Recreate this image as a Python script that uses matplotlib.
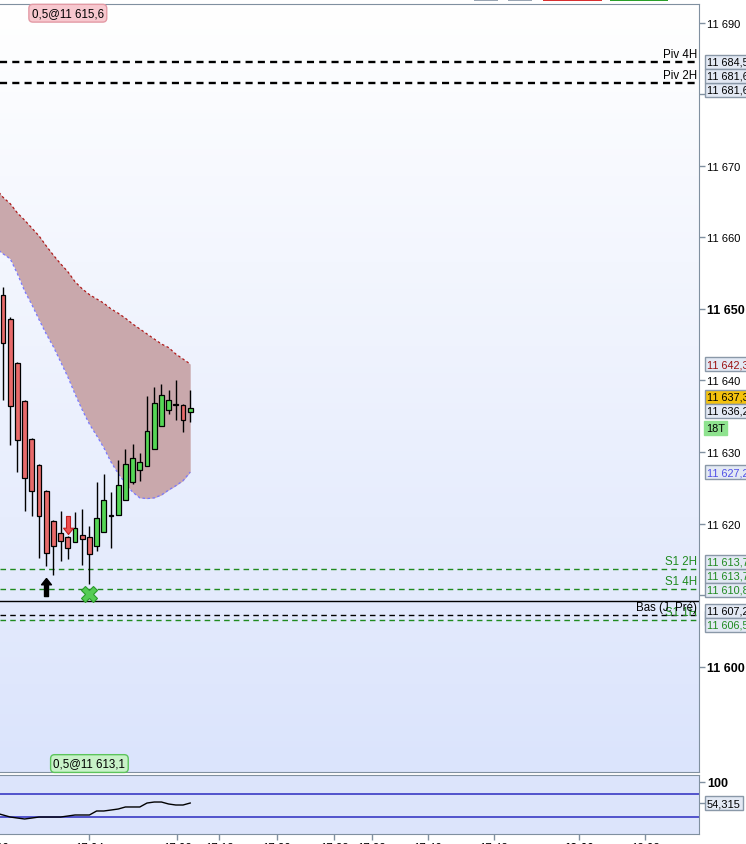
import numpy as np
import matplotlib
matplotlib.use("Agg")
import matplotlib.pyplot as plt
from matplotlib.path import Path
from matplotlib.patches import Rectangle
from matplotlib.colors import LinearSegmentedColormap
from matplotlib.transforms import blended_transform_factory

plt.rcParams['font.family'] = ['Liberation Sans', 'DejaVu Sans']

# ---- data ----
opens = [11652.0, 11648.6, 11642.5, 11637.2, 11631.8, 11628.2, 11624.6, 11620.4, 11618.7,
         11618.2, 11617.5, 11618.4, 11618.2, 11616.9, 11618.9, 11621.1, 11621.2, 11623.3,
         11625.8, 11627.5, 11628.1, 11630.4, 11633.7, 11635.9, 11636.6, 11636.6, 11635.6]
highs = [11653.1, 11648.9, 11642.6, 11637.3, 11631.9, 11628.3, 11624.7, 11620.5, 11621.8,
         11618.3, 11621.6, 11622.1, 11619.7, 11625.8, 11627.0, 11624.4, 11628.9, 11630.4,
         11631.1, 11629.9, 11637.8, 11639.1, 11639.5, 11638.7, 11640.1, 11636.7, 11638.7]
lows = [11637.3, 11631.0, 11627.2, 11621.8, 11621.0, 11615.2, 11614.1, 11612.8, 11614.8,
        11615.0, 11617.5, 11614.2, 11611.5, 11616.2, 11618.9, 11616.6, 11621.2, 11623.3,
        11625.5, 11626.0, 11628.1, 11630.4, 11633.7, 11635.3, 11634.5, 11632.8, 11634.2]
closes = [11645.3, 11636.5, 11631.7, 11626.4, 11624.6, 11621.0, 11615.9, 11616.9, 11617.6,
          11616.6, 11619.4, 11617.9, 11615.8, 11620.8, 11623.3, 11621.1, 11625.4, 11628.4,
          11629.2, 11628.6, 11633.0, 11636.9, 11638.0, 11637.3, 11636.6, 11634.5, 11636.2]

band_x = list(range(-1, 27))
band_hi = [11666.8, 11665.6, 11664.7, 11663.4, 11662.4, 11661.3, 11660.2, 11658.8, 11657.5,
           11656.3, 11655.2, 11653.8, 11652.8, 11652.0, 11651.4, 11650.8, 11650.0, 11649.4,
           11648.7, 11647.9, 11647.2, 11646.5, 11645.8, 11645.1, 11644.6, 11643.7, 11643.0, 11642.3]
band_lo = [11658.5, 11657.7, 11657.0, 11654.9, 11652.5, 11650.6, 11648.5, 11646.5, 11644.7,
           11642.6, 11640.5, 11638.1, 11635.9, 11633.9, 11632.3, 11630.6, 11628.6, 11627.0,
           11625.6, 11624.4, 11623.6, 11623.5, 11623.6, 11624.0, 11624.7, 11625.3, 11626.0, 11627.2]

osc_x = list(range(-1, 27))
osc = [32.6, 28.3, 23.9, 21.7, 19.6, 21.7, 23.9, 23.9, 23.9, 23.9, 26.1, 28.3, 28.3, 28.3,
       37.0, 37.0, 39.1, 41.3, 45.7, 45.7, 45.7, 54.3, 56.5, 56.5, 52.2, 50.0, 50.0, 54.315]
osc_levels = [75, 25]

# horizontal levels: value, label, colour, style
levels = [
    (11684.5, 'Piv 4H', 'black', 'piv'),
    (11681.6, 'Piv 2H', 'black', 'piv'),
    (11613.7, 'S1 2H', '#1f8a1f', 's1'),
    (11610.8, 'S1 4H', '#1f8a1f', 's1'),
    (11609.2, '', 'black', 'solid'),
    (11607.2, 'Bas (J. Pré)', 'black', 'bas'),
    (11606.5, 'S1 1H', '#1f8a1f', 's1'),
]

# price boxes on the right: value, text colour, face colour
boxes = [
    (11684.5, 'black', '#e3e9f4'),
    (11681.6, 'black', '#e3e9f4'),
    (11681.6, 'black', '#e3e9f4'),
    (11642.3, '#9b1111', '#e3e9f4'),
    (11637.3, 'black', '#f4c20d'),
    (11636.2, 'black', '#e3e9f4'),
    (11627.2, '#5050e6', '#e3e9f4'),
    (11613.7, '#1f8a1f', '#e3e9f4'),
    (11613.7, '#1f8a1f', '#e3e9f4'),
    (11610.8, '#1f8a1f', '#e3e9f4'),
    (11607.2, 'black', '#e3e9f4'),
    (11606.5, '#1f8a1f', '#e3e9f4'),
]
hidden_box = 11606.8

up_arrow = (6, 11611.2)
down_arrow = (9, 11619.8)
cross = (12, 11610.2)
top_tag = (9, '0,5@11 615,6')
bottom_tag = (12, '0,5@11 613,1')

x_tick_pos = [-1.1, 12.0, 24.2, 30.0, 38.0, 46.0, 51.2, 59.0, 68.2, 80.0, 89.2]
x_tick_lab = ['17:00', '17:04', '17:08', '17:12', '17:20', '17:28', '17:32', '17:40',
              '17:48', '18:00', '18:08']

y_ticks = list(range(11600, 11700, 10))

# ---- figure ----
W, H = 746, 845
fig = plt.figure(figsize=(W / 100, H / 100), dpi=100)
ax = fig.add_axes([0, 1 - 773 / H, 699 / W, 768 / H])
ax2 = fig.add_axes([0, 1 - 835 / H, 699 / W, 59 / H])

spine_c = '#8090a0'
grad = LinearSegmentedColormap.from_list('bg', ['#ffffff', '#dbe4fc'])
ax.imshow(np.linspace(0, 1, 256).reshape(-1, 1), cmap=grad, extent=(0, 1, 0, 1),
          transform=ax.transAxes, aspect='auto', zorder=0)
ax2.set_facecolor('#dce4fb')

XL = (-0.42, 96.67)
ax.set_xlim(*XL)
ax.set_ylim(11585.3, 11692.6)
ax2.set_xlim(*XL)
ax2.set_ylim(-13.0, 115.2)

# band
ax.fill_between(band_x, band_lo, band_hi, color='#c9a8ac', lw=0, zorder=1)
ax.plot(band_x, band_hi, color='#b01818', lw=0.9, ls=(0, (2, 2)), zorder=1.5)
ax.plot(band_x, band_lo, color='#7878ff', lw=0.9, ls=(0, (2, 2)), zorder=1.5)

# levels
for v, lab, c, st in levels:
    if st == 'piv':
        ax.axhline(v, color=c, lw=1.7, ls=(0, (3, 2.2)), zorder=2)
    elif st in ('s1', 'bas'):
        ax.axhline(v, color=c, lw=1.0, ls=(0, (4, 3)), zorder=2)
    else:
        ax.axhline(v, color=c, lw=1.0, zorder=2)
bt = blended_transform_factory(ax.transAxes, ax.transData)
for v, lab, c, st in sorted(levels, key=lambda r: r[2] == 'black'):
    if lab:
        ax.annotate(lab, xy=(0.997, v), xycoords=bt, xytext=(0, 2), textcoords='offset pixels',
                    ha='right', va='bottom', fontsize=8.3, color=c, zorder=4)

# candles
idx = np.arange(len(opens))
o = np.array(opens)
c_ = np.array(closes)
colors = ['#55d655' if cc > oo else '#e86a6a' for oo, cc in zip(o, c_)]
ax.vlines(idx, lows, highs, color='black', lw=1, zorder=3)
body_h = np.maximum(np.abs(c_ - o), 0.12)
ax.bar(idx, body_h, bottom=np.minimum(o, c_), width=0.68, color=colors,
       edgecolor='black', lw=0.9, zorder=3.2)

# markers
arrow = Path([(0, 1), (0.55, 0.3), (0.22, 0.3), (0.22, -1), (-0.22, -1), (-0.22, 0.3),
              (-0.55, 0.3), (0, 1)])
arrow_dn = Path([(x, -y) for x, y in arrow.vertices])
ax.plot(*up_arrow, marker=arrow, ms=13, color='black', mec='black', zorder=5)
ax.plot(*down_arrow, marker=arrow_dn, ms=13, color='#f05050', mec='#c02020', mew=0.8, zorder=5)
ax.plot(*cross, marker='X', ms=11, color='#55cc55', mec='#2a9a2a', mew=0.8, zorder=5)

tb = blended_transform_factory(ax.transData, ax.transAxes)
ax.text(top_tag[0], 0.988, top_tag[1], transform=tb, ha='center', va='center', fontsize=8.3,
        bbox=dict(boxstyle='round,pad=0.25,rounding_size=0.35', fc='#f7c8cf', ec='#e39aa5', lw=1),
        zorder=6)
ax.text(bottom_tag[0], 0.011, bottom_tag[1], transform=tb, ha='center', va='center', fontsize=8.3,
        bbox=dict(boxstyle='round,pad=0.25,rounding_size=0.35', fc='#c8f2c8', ec='#5cc45c', lw=1),
        zorder=6)


# ---- right-side price boxes, spread so they do not overlap ----
def spread(vals, gap):
    order = sorted(range(len(vals)), key=lambda i: vals[i])
    groups = [[i] for i in order]

    def place(g):
        m = np.mean([vals[i] for i in g])
        s = m - gap * (len(g) - 1) / 2
        return [s + gap * k for k in range(len(g))]

    changed = True
    while changed:
        changed = False
        for k in range(len(groups) - 1):
            a, b = place(groups[k]), place(groups[k + 1])
            if b[0] - a[-1] < gap:
                groups[k] = groups[k] + groups[k + 1]
                del groups[k + 1]
                changed = True
                break
    out = [0.0] * len(vals)
    for g in groups:
        for i, p in zip(g, place(g)):
            out[i] = p
    return out


def fmt(v, nd=1):
    s = f"{v:,.{nd}f}"
    return s.replace(',', ' ').replace('.', ',')


def px(v):
    return ax.transData.transform((0, v))[1]


raw = [px(b[0]) for b in boxes]
placed = spread(raw, 14.0)
box_kw = dict(xycoords=bt, textcoords='offset pixels', ha='left', va='center',
              fontsize=7.8, annotation_clip=False)
ax.annotate(fmt(hidden_box), xy=(1, hidden_box), xytext=(8, 0), color='#1f8a1f', zorder=6,
            bbox=dict(boxstyle='square,pad=0.18', fc='#e3e9f4', ec='#8a98a8', lw=1), **box_kw)
for (v, tc, fc), r, p in zip(boxes, raw, placed):
    ax.annotate(fmt(v), xy=(1, v), xytext=(8, p - r), color=tc, zorder=7,
                bbox=dict(boxstyle='square,pad=0.18', fc=fc, ec='#8a98a8', lw=1), **box_kw)
last_i = [i for i, b in enumerate(boxes) if b[0] == closes[-1]][0]
ax.annotate('18T', xy=(1, boxes[last_i][0]), xytext=(7, placed[last_i] - raw[last_i] - 17),
            color='black', zorder=7,
            bbox=dict(boxstyle='square,pad=0.18', fc='#8fe38f', ec='#8fe38f', lw=1), **box_kw)

# y axis ticks (labels under boxes are hidden)
ax.yaxis.tick_right()
ax.set_yticks(y_ticks)
labs = []
for t in y_ticks:
    covered = any(abs(px(t) - p) < 10 for p in placed)
    labs.append('' if covered else fmt(t, 0))
ax.set_yticklabels(labs)
for t, tl in zip(y_ticks, ax.get_yticklabels()):
    tl.set_fontsize(8)
    if t % 50 == 0:
        tl.set_fontweight('bold')
        tl.set_fontsize(9)
ax.tick_params(axis='y', length=4, width=1, color=spine_c, pad=2)
ax.set_xticks([])
ax.spines['left'].set_visible(False)
for s in ['top', 'right', 'bottom']:
    ax.spines[s].set_color(spine_c)

# ---- oscillator panel ----
ax2.plot(osc_x, osc, color='black', lw=1, zorder=3)
for lv in osc_levels:
    ax2.axhline(lv, color='#2b2bc0', lw=1.1, zorder=2)
ax2.yaxis.tick_right()
ax2.set_yticks([100, osc[-1]])
ax2.set_yticklabels(['100', ''])
ax2.get_yticklabels()[0].set_fontweight('bold')
ax2.get_yticklabels()[0].set_fontsize(9)
ax2.tick_params(axis='y', length=4, width=1, color=spine_c, pad=2)
bt2 = blended_transform_factory(ax2.transAxes, ax2.transData)
ax2.annotate(fmt(osc[-1], 3), xy=(1, osc[-1]), xycoords=bt2, xytext=(8, 0),
             textcoords='offset pixels', ha='left', va='center', fontsize=8,
             annotation_clip=False, zorder=7,
             bbox=dict(boxstyle='square,pad=0.15', fc='#e3e9f4', ec='#8a98a8', lw=1))
ax2.set_xticks([p for p in x_tick_pos if p > XL[0]])
ax2.set_xticklabels([])
ax2.tick_params(axis='x', length=4, width=1, color=spine_c, direction='out')
tb2 = blended_transform_factory(ax2.transData, ax2.transAxes)
for p, lab in zip(x_tick_pos, x_tick_lab):
    ax2.annotate(lab, xy=(p, 0), xycoords=tb2, xytext=(0, -8), textcoords='offset pixels',
                 ha='center', va='top', fontsize=8.3, annotation_clip=False,
                 fontweight='bold' if lab == '18:00' else 'normal')
ax2.spines['left'].set_visible(False)
for s in ['top', 'right', 'bottom']:
    ax2.spines[s].set_color(spine_c)

# window chrome strip at the very top
for x0, x1, fc in [(474, 498, '#9aa6b4'), (508, 532, '#9aa6b4'), (543, 602, '#d83030'),
                   (610, 668, '#2aa02a')]:
    fig.add_artist(Rectangle((x0 / W, 1 - 2 / H), (x1 - x0) / W, 2 / H,
                             transform=fig.transFigure, fc=fc, ec='none'))

fig.savefig('out.png', dpi=100)
